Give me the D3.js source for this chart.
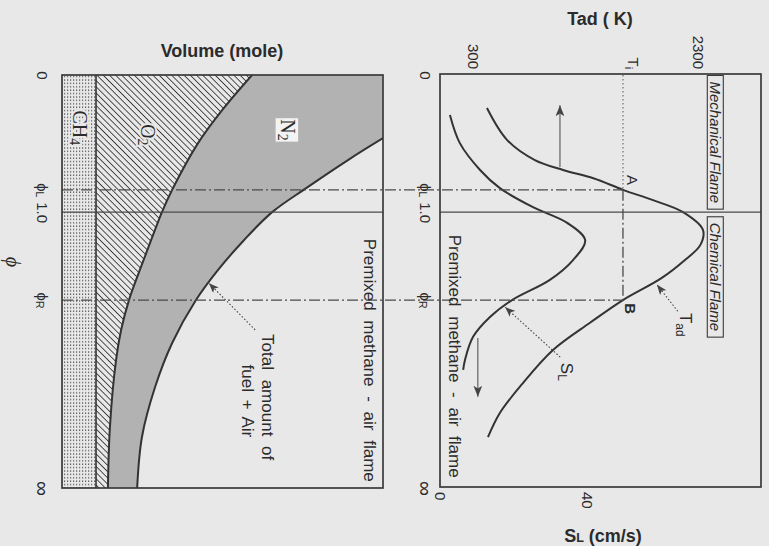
<!DOCTYPE html>
<html>
<head>
<meta charset="utf-8">
<script src="https://cdn.jsdelivr.net/npm/d3@7"></script>
<style>
  body { margin: 0; background: #e8e8e8; }
  svg { display: block; }
  text { font-family: "Liberation Sans", Arial, sans-serif; fill: #2b2b2b; }
</style>
</head>
<body>
<script>
// phi axis runs down the page: 0 = phi 0, 1 = phi infinity (position along the axis)
var phiTicks    = [0, 0.278, 0.332, 0.545, 1];
var phiTickMain = ["0", "ϕ", "1.0", "ϕ", "∞"];
var phiTickSub  = ["", "L", "", "R", ""];
var phiLean = 0.278, phiStoich = 0.332, phiRich = 0.545;

// left panel: cumulative volume (moles), CH4 = 1
var ch4Moles = 1;
var o2Phi = [0, 0.085, 0.165, 0.278, 0.332, 0.400, 0.472, 0.545, 0.617, 0.690, 0.852, 1];
var o2Cum = [5.59, 4.71, 4.00, 3.24, 2.94, 2.62, 2.29, 1.97, 1.74, 1.59, 1.41, 1.35];
var totalPhi = [0.08, 0.153, 0.206, 0.274, 0.332, 0.400, 0.472, 0.545, 0.649, 0.755, 0.877, 1];
var totalCum = [10.94, 9.44, 8.41, 7.18, 6.18, 5.35, 4.59, 3.94, 3.24, 2.74, 2.35, 2.21];

// right panel: adiabatic flame temperature (K) and burning velocity (cm/s)
var tadPhi = [0.080, 0.157, 0.206, 0.230, 0.250, 0.278, 0.303, 0.332, 0.375, 0.412, 0.448, 0.492, 0.545, 0.600, 0.666, 0.746, 0.818, 0.877];
var tadK   = [424, 602, 850, 1100, 1370, 1633, 1900, 2167, 2344, 2320, 2184, 1975, 1633, 1340, 1011, 744, 540, 433];
var slPhi  = [0.097, 0.165, 0.230, 0.274, 0.320, 0.358, 0.400, 0.448, 0.496, 0.545, 0.586, 0.634, 0.690, 0.714];
var slCms  = [2.7, 5.4, 10.9, 16.3, 25.3, 34.6, 39.5, 36.2, 29.9, 19.6, 13.6, 9.0, 6.8, 6.3];

var Ti = 1633;
var tadTicks = [300, Ti, 2300];
var tadTickMain = ["300", "T", "2300"];
var tadTickSub  = ["", "i", ""];
var slTicks = [0, 40];

function draw() {
    var width = 769, height = 546;
    var plotTop = 75, plotBottom = 488;
    var volMax = 9.44;
    var ink = "#333", paper = "#e8e8e8";
    var smooth = d3.curveCatmullRom.alpha(0.5);

    var svg = d3.select("body").append("svg")
        .attr("width", width)
        .attr("height", height);

    svg.append("rect").attr("width", width).attr("height", height).attr("fill", paper);

    var y = d3.scaleLinear().domain([0, 1]).range([plotTop, plotBottom]);
    var xVol = d3.scaleLinear().domain([0, volMax]).range([62, 383]);
    var xT = d3.scaleLinear().domain([300, 2300]).range([473, 698]);
    var xS = d3.scaleLinear().domain([0, 40]).range([440, 587]);
    var leftX0 = xVol(0), leftX1 = xVol(volMax);
    var rightX0 = xS(0), rightX1 = 761;

    var defs = svg.append("defs");

    // O2 hatching "\\\"
    defs.append("pattern")
        .attr("id", "hatch")
        .attr("patternUnits", "userSpaceOnUse")
        .attr("width", 4.4).attr("height", 4.4)
        .attr("patternTransform", "rotate(-45)")
        .append("line")
        .attr("x1", 2.2).attr("y1", 0).attr("x2", 2.2).attr("y2", 4.4)
        .attr("stroke", "#3a3a3a").attr("stroke-width", 0.9);

    // CH4 stipple
    var dots = defs.append("pattern")
        .attr("id", "dots")
        .attr("patternUnits", "userSpaceOnUse")
        .attr("width", 3).attr("height", 3.4);
    dots.append("rect").attr("width", 3).attr("height", 3.4).attr("fill", paper);
    dots.append("rect").attr("x", 1).attr("y", 1.2).attr("width", 1.2).attr("height", 1.2).attr("fill", "#4a4a4a");

    function marker(id, len) {
        defs.append("marker")
            .attr("id", id)
            .attr("viewBox", "0 0 10 8")
            .attr("refX", 10).attr("refY", 4)
            .attr("markerUnits", "userSpaceOnUse")
            .attr("markerWidth", len).attr("markerHeight", len * 0.8)
            .attr("orient", "auto")
            .append("path")
            .attr("d", "M0,0 L10,4 L0,8 L2.5,4 Z")
            .attr("fill", "#444");
    }
    marker("head", 11);
    marker("head-small", 10);

    defs.append("clipPath").attr("id", "left-clip").append("rect")
        .attr("x", leftX0).attr("y", plotTop)
        .attr("width", leftX1 - leftX0).attr("height", plotBottom - plotTop);

    var o2Data = o2Phi.map(function (p, i) { return {p: p, v: o2Cum[i]}; });
    var totalData = totalPhi.map(function (p, i) { return {p: p, v: totalCum[i]}; });
    var tadData = tadPhi.map(function (p, i) { return {p: p, t: tadK[i]}; });
    var slData = slPhi.map(function (p, i) { return {p: p, s: slCms[i]}; });

    // ---------- left panel ----------
    var left = svg.append("g").attr("clip-path", "url(#left-clip)");

    // N2 band (everything right of the O2 curve, then cut back by total)
    left.append("path").datum(o2Data)
        .attr("fill", "#b2b2b2")
        .attr("d", d3.area().curve(smooth)
            .y(function (d) { return y(d.p); })
            .x0(function (d) { return xVol(d.v); })
            .x1(leftX1));

    left.append("path").datum(totalData)
        .attr("fill", paper)
        .attr("d", d3.area().curve(smooth)
            .y(function (d) { return y(d.p); })
            .x0(function (d) { return xVol(d.v); })
            .x1(leftX1 + 60));

    left.append("path").datum(o2Data)
        .attr("fill", "url(#hatch)")
        .attr("d", d3.area().curve(smooth)
            .y(function (d) { return y(d.p); })
            .x0(xVol(ch4Moles))
            .x1(function (d) { return xVol(d.v); }));

    left.append("rect")
        .attr("x", leftX0).attr("y", plotTop)
        .attr("width", xVol(ch4Moles) - leftX0).attr("height", plotBottom - plotTop)
        .attr("fill", "url(#dots)");

    left.append("line")
        .attr("x1", xVol(ch4Moles)).attr("x2", xVol(ch4Moles))
        .attr("y1", plotTop).attr("y2", plotBottom)
        .attr("stroke", ink).attr("stroke-width", 1.6);

    var volLine = d3.line().curve(smooth)
        .x(function (d) { return xVol(d.v); })
        .y(function (d) { return y(d.p); });

    left.append("path").datum(o2Data)
        .attr("fill", "none").attr("stroke", ink).attr("stroke-width", 2)
        .attr("d", volLine);
    left.append("path").datum(totalData)
        .attr("fill", "none").attr("stroke", ink).attr("stroke-width", 2)
        .attr("d", volLine);

    // ---------- right panel curves ----------
    svg.append("path").datum(tadData)
        .attr("fill", "none").attr("stroke", ink).attr("stroke-width", 2)
        .attr("d", d3.line().curve(smooth)
            .x(function (d) { return xT(d.t); })
            .y(function (d) { return y(d.p); }));

    svg.append("path").datum(slData)
        .attr("fill", "none").attr("stroke", ink).attr("stroke-width", 2)
        .attr("d", d3.line().curve(smooth)
            .x(function (d) { return xS(d.s); })
            .y(function (d) { return y(d.p); }));

    // ---------- reference lines ----------
    var dashDot = "11,3,2,3";
    [phiLean, phiRich].forEach(function (p) {
        svg.append("line")
            .attr("x1", leftX0).attr("x2", xT(Ti))
            .attr("y1", y(p)).attr("y2", y(p))
            .attr("stroke", "#4a4a4a").attr("stroke-width", 1.3)
            .attr("stroke-dasharray", dashDot);
    });
    [[leftX0, leftX1], [rightX0, rightX1]].forEach(function (r) {
        svg.append("line")
            .attr("x1", r[0]).attr("x2", r[1])
            .attr("y1", y(phiStoich)).attr("y2", y(phiStoich))
            .attr("stroke", "#4a4a4a").attr("stroke-width", 1.3);
    });
    svg.append("line")
        .attr("x1", xT(Ti)).attr("x2", xT(Ti))
        .attr("y1", plotTop).attr("y2", y(phiLean))
        .attr("stroke", "#555").attr("stroke-width", 1)
        .attr("stroke-dasharray", "1.5,2.5");
    svg.append("line")
        .attr("x1", xT(Ti)).attr("x2", xT(Ti))
        .attr("y1", y(phiLean)).attr("y2", y(phiRich))
        .attr("stroke", "#4a4a4a").attr("stroke-width", 1.3)
        .attr("stroke-dasharray", dashDot);

    // boxes
    svg.append("rect")
        .attr("x", leftX0).attr("y", plotTop)
        .attr("width", leftX1 - leftX0).attr("height", plotBottom - plotTop)
        .attr("fill", "none").attr("stroke", "#3a3a3a").attr("stroke-width", 1.7);
    svg.append("rect")
        .attr("x", rightX0).attr("y", plotTop - 1)
        .attr("width", rightX1 - rightX0).attr("height", plotBottom - plotTop)
        .attr("fill", "none").attr("stroke", "#3a3a3a").attr("stroke-width", 1.7);

    // arrows showing direction of change
    svg.append("line")
        .attr("x1", xT(1073)).attr("x2", xT(1073))
        .attr("y1", y(0.223)).attr("y2", y(0.073))
        .attr("stroke", "#555").attr("stroke-width", 1.1)
        .attr("marker-end", "url(#head)");
    svg.append("line")
        .attr("x1", xS(10.3)).attr("x2", xS(10.3))
        .attr("y1", y(0.637)).attr("y2", y(0.779))
        .attr("stroke", "#555").attr("stroke-width", 1.1)
        .attr("marker-end", "url(#head)");

    // dotted leaders
    function leader(x1, y1, x2, y2) {
        svg.append("line")
            .attr("x1", x1).attr("y1", y1).attr("x2", x2).attr("y2", y2)
            .attr("stroke", "#444").attr("stroke-width", 1.1)
            .attr("stroke-dasharray", "1.5,2")
            .attr("marker-end", "url(#head-small)");
    }
    leader(xT(2120), y(0.572), xT(1936), y(0.508));
    leader(xS(32.7), y(0.683), xS(17.7), y(0.562));
    leader(xVol(5.68), y(0.617), xVol(4.32), y(0.504));

    // ---------- text helpers ----------
    function vText(x, yy, anchor, size) {
        return svg.append("text")
            .attr("transform", "translate(" + x + "," + yy + ") rotate(90)")
            .attr("text-anchor", anchor)
            .attr("dy", "0.35em")
            .style("font-size", size + "px");
    }
    function withSub(t, main, sub, shift) {
        t.append("tspan").text(main);
        if (sub) t.append("tspan").attr("dy", shift || "0.3em").style("font-size", "70%").text(sub);
        return t;
    }

    // phi axes (left & right), labels rotated
    function phiAxis(x) {
        var g = svg.append("g")
            .attr("transform", "translate(" + x + ",0)")
            .call(d3.axisLeft(y).tickValues(phiTicks).tickSize(0).tickFormat(""));
        g.select(".domain").remove();
        g.attr("font-family", null).attr("font-size", null);
        g.selectAll(".tick text")
            .attr("x", 0).attr("y", 0)
            .attr("dy", "0.35em")
            .attr("transform", "rotate(90)")
            .attr("text-anchor", "middle")
            .style("font-size", function (d, i) { return i === 4 ? "21px" : "15px"; })
            .each(function (d, i) {
                withSub(d3.select(this), phiTickMain[i], phiTickSub[i], "0.1em");
            });
    }
    phiAxis(42);
    phiAxis(425);

    // Tad axis on top
    var gT = svg.append("g")
        .attr("transform", "translate(0,69)")
        .call(d3.axisTop(xT).tickValues(tadTicks).tickSize(0).tickFormat(""));
    gT.select(".domain").remove();
    gT.attr("font-family", null).attr("font-size", null);
    gT.selectAll(".tick text")
        .attr("x", 0).attr("y", 0).attr("dy", "0.35em")
        .attr("transform", "rotate(90)")
        .attr("text-anchor", "end")
        .style("font-size", "15px")
        .each(function (d, i) {
            var t = d3.select(this);
            if (i === 1) t.attr("dy", "-0.3em");
            withSub(t, tadTickMain[i], tadTickSub[i], "0.25em");
        });

    // SL axis at bottom
    var gS = svg.append("g")
        .attr("transform", "translate(0,492)")
        .call(d3.axisBottom(xS).tickValues(slTicks).tickSize(0).tickFormat(d3.format("d")));
    gS.select(".domain").remove();
    gS.attr("font-family", null).attr("font-size", null);
    gS.selectAll(".tick text")
        .attr("x", 0).attr("y", 0).attr("dy", "0.35em")
        .attr("transform", "rotate(90)")
        .attr("text-anchor", "start")
        .style("font-size", "15px");

    // axis titles
    svg.append("text").attr("x", 222).attr("y", 57)
        .attr("text-anchor", "middle").style("font-size", "18px").style("font-weight", "bold")
        .text("Volume (mole)");
    svg.append("text").attr("x", 600).attr("y", 25)
        .attr("text-anchor", "middle").style("font-size", "18px").style("font-weight", "bold")
        .text("Tad ( K)");
    var slTitle = svg.append("text").attr("x", 603).attr("y", 542)
        .attr("text-anchor", "middle").style("font-size", "18px").style("font-weight", "bold");
    slTitle.append("tspan").text("S");
    slTitle.append("tspan").style("font-size", "70%").text("L");
    slTitle.append("tspan").text(" (cm/s)");

    vText(13, 262, "middle", 20)
        .style("font-family", "'Liberation Serif', serif")
        .style("font-style", "italic")
        .text("ϕ");

    // panel labels
    var serif = "'Liberation Serif', 'Times New Roman', serif";
    withSub(vText(xVol(0.53), y(0.128), "middle", 20).style("font-family", serif)
        .attr("stroke", paper).attr("stroke-width", 4).attr("paint-order", "stroke"), "CH", "4", "0.25em");
    withSub(vText(xVol(2.53), y(0.145), "middle", 20).style("font-family", serif)
        .attr("stroke", paper).attr("stroke-width", 4).attr("paint-order", "stroke"), "O", "2", "0.25em");

    var n2 = svg.append("g").attr("transform", "translate(" + xVol(6.65) + "," + y(0.133) + ") rotate(90)");
    var n2Text = n2.append("text").attr("text-anchor", "middle").attr("dy", "0.35em")
        .style("font-family", serif).style("font-size", "20px");
    withSub(n2Text, "N", "2", "0.25em");
    var nb = n2Text.node().getBBox();
    n2.insert("rect", "text")
        .attr("x", nb.x - 1).attr("y", nb.y + 1)
        .attr("width", nb.width + 2).attr("height", nb.height - 2)
        .attr("fill", "#f3f3f3");

    vText(xVol(9.06), y(0.985), "end", 17).style("word-spacing", "5px")
        .text("Premixed methane - air flame");
    vText(xS(4.1), y(0.975), "end", 17).style("word-spacing", "5px")
        .text("Premixed methane - air flame");
    vText(xVol(6.06), y(0.780), "middle", 17).style("word-spacing", "5px")
        .text("Total amount of");
    vText(xVol(5.47), y(0.789), "middle", 17).style("word-spacing", "3px")
        .text("fuel + Air");

    vText(xT(1713), y(0.254), "middle", 15).text("A");
    vText(xT(1696), y(0.566), "middle", 15).style("font-weight", "bold").text("B");
    withSub(vText(xT(2193), y(0.576), "start", 17), "T", "ad", "0.35em");
    withSub(vText(xS(34.6), y(0.697), "start", 17), "S", "L", "0.3em");

    // boxed flame labels
    function boxed(label, t, p) {
        var g = svg.append("g").attr("transform", "translate(" + xT(t) + "," + y(p) + ") rotate(90)");
        var tx = g.append("text").attr("text-anchor", "middle").attr("dy", "0.35em")
            .style("font-size", "15px").style("font-style", "italic").text(label);
        var b = tx.node().getBBox();
        g.insert("rect", "text")
            .attr("x", b.x - 6).attr("y", b.y + 1)
            .attr("width", b.width + 12).attr("height", b.height - 1)
            .attr("fill", "none").attr("stroke", "#3a3a3a").attr("stroke-width", 1.1);
    }
    boxed("Mechanical Flame", 2456, 0.163);
    boxed("Chemical Flame", 2456, 0.489);
}

draw();
</script>
</body>
</html>
